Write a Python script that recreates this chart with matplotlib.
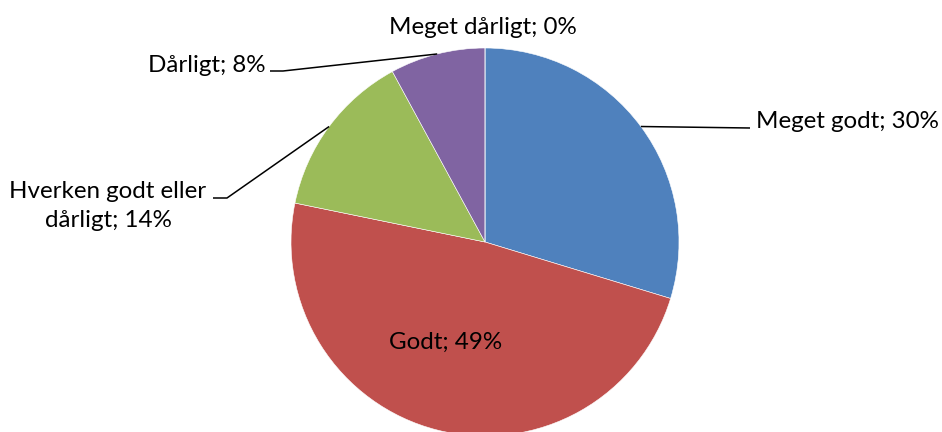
import numpy as np
import matplotlib
matplotlib.use('Agg')
import matplotlib.pyplot as plt

# answer categories and rounded shares (percent) as shown in the chart
categories = ['Meget godt', 'Godt', 'Hverken godt eller\ndårligt', 'Dårligt', 'Meget dårligt']
shares = [30, 49, 14, 8, 0]
colors = ['#4F81BD', '#C0504D', '#9BBB59', '#8064A2', '#4BACC6']

W, H = 942, 432
fh = plt.figure(figsize=(W / 100, H / 100), dpi=100)
ax = fh.add_axes([0, 0, 1, 1])

cx, cy, R = 485, H - 242, 194
wedges, _ = ax.pie(shares, colors=colors, startangle=90, counterclock=False,
                   center=(cx, cy), radius=R, frame=True,
                   wedgeprops=dict(edgecolor='white', linewidth=0.4))
ax.set_xlim(0, W)
ax.set_ylim(0, H)
ax.axis('off')

def mid_point(w, frac=1.0):
    a = np.deg2rad((w.theta1 + w.theta2) / 2)
    return cx + frac * R * np.cos(a), cy + frac * R * np.sin(a)

font = dict(family=['Lato', 'DejaVu Sans'], fontsize=17.4, color='black')
labels = [f'{c}; {s}%' for c, s in zip(categories, shares)]
line_kw = dict(color='black', linewidth=1.1, solid_capstyle='butt')

# Meget godt - label right, leader line
x0, y0 = mid_point(wedges[0])
ax.plot([x0, 750], [y0, H - 128], **line_kw)
ax.text(756, H - 121, labels[0], ha='left', va='center', **font)

# Godt - inside the slice
ax.text(446, H - 342, labels[1], ha='center', va='center', **font)

# Hverken godt eller darligt - left, two lines
x0, y0 = mid_point(wedges[2])
ax.plot([x0, 227, 213], [y0, H - 198, H - 198], **line_kw)
ax.text(108, H - 206, labels[2], ha='center', va='center',
        multialignment='center', linespacing=1.5, **font)

# Darligt - upper left
x0, y0 = mid_point(wedges[3])
ax.plot([x0, 283, 270], [y0, H - 71, H - 71], **line_kw)
ax.text(265, H - 65, labels[3], ha='right', va='center', **font)

# Meget darligt - on top, no leader
ax.text(483, H - 27, labels[4], ha='center', va='center', **font)

fh.savefig('out.png', dpi=100)
